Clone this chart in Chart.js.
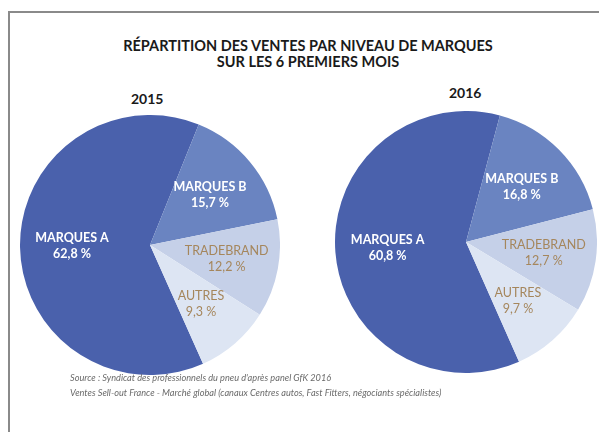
<!DOCTYPE html>
<html>
<head>
<meta charset="utf-8">
<script src="https://cdn.jsdelivr.net/npm/chart.js@4.4.0/dist/chart.umd.min.js"></script>
<style>
  body { margin: 0; background: #fff; width: 599px; height: 432px; overflow: hidden; position: relative; font-family: Lato, "Open Sans", sans-serif; }
  .frame { position: absolute; left: 8px; top: 11px; width: 700px; height: 500px; border-left: 2px solid #8a8a8a; border-top: 2px solid #8a8a8a; }
  .title { position: absolute; left: 0; width: 616px; top: 38px; text-align: center; font-weight: 700; font-size: 14.5px; line-height: 16px; color: #1a1a1a; letter-spacing: 0px; }
  .year { position: absolute; font-weight: 700; font-size: 14px; color: #1a1a1a; }
  .pie { position: absolute; }
  .source { position: absolute; left: 70px; top: 370px; font-style: italic; font-size: 9.2px; line-height: 15px; color: #6a6a6a; }
</style>
</head>
<body>
<div class="frame"></div>
<div class="title">RÉPARTITION DES VENTES PAR NIVEAU DE MARQUES<br>SUR LES 6 PREMIERS MOIS</div>
<div class="year" style="left:131px; top:90px;">2015</div>
<div class="year" style="left:449px; top:84px;">2016</div>
<div class="pie" style="left:20px; top:115px; width:260px; height:260px;"><canvas id="pie2015"></canvas></div>
<div class="pie" style="left:335px; top:111px; width:262px; height:262px;"><canvas id="pie2016"></canvas></div>
<div class="source">Source : Syndicat des professionnels du pneu d'après panel GfK 2016<br>Ventes Sell-out France - Marché global (canaux Centres autos, Fast Fitters, négociants spécialistes)</div>
<script>
const categories = ["MARQUES A", "MARQUES B", "TRADEBRAND", "AUTRES"];
const values2015 = [62.8, 15.7, 12.2, 9.3];
const values2016 = [60.8, 16.8, 12.7, 9.7];

const sliceColors = ["#4a61ac", "#6a84c1", "#c5d0e8", "#dde5f3"];
const labelColors = ["#ffffff", "#ffffff", "#a5865c", "#a5865c"];
const labelWeights = ["bold", "bold", "normal", "normal"];

// writes the category and the value inside each slice
const sliceLabels = {
  id: "sliceLabels",
  afterDatasetsDraw(chart) {
    const ctx = chart.ctx;
    const meta = chart.getDatasetMeta(0);
    const values = chart.data.datasets[0].data;
    meta.data.forEach((arc, i) => {
      const mid = (arc.startAngle + arc.endAngle) / 2;
      const r = arc.outerRadius * 0.6;
      const x = arc.x + Math.cos(mid) * r;
      const y = arc.y + Math.sin(mid) * r;
      ctx.save();
      ctx.fillStyle = labelColors[i];
      ctx.font = labelWeights[i] + " 12.5px Lato, 'Open Sans', sans-serif";
      ctx.textAlign = "center";
      ctx.textBaseline = "middle";
      ctx.fillText(chart.data.labels[i], x, y - 8);
      ctx.fillText(values[i].toFixed(1).replace(".", ",") + " %", x, y + 8);
      ctx.restore();
    });
  },
};

// startB: angle (deg, clockwise from the top) where the MARQUES B slice begins
const makePie = (canvasId, values, startB) => {
  return new Chart(document.getElementById(canvasId), {
    type: "pie",
    data: {
      labels: categories,
      datasets: [
        {
          data: values,
          backgroundColor: sliceColors,
          borderWidth: 0,
          hoverOffset: 0,
        },
      ],
    },
    options: {
      responsive: true,
      maintainAspectRatio: false,
      animation: false,
      rotation: startB - values[0] * 3.6,
      layout: { padding: 0 },
      plugins: {
        legend: { display: false },
        tooltip: { enabled: false },
      },
    },
    plugins: [sliceLabels],
  });
};

makePie("pie2015", values2015, 22);
makePie("pie2016", values2016, 15);
</script>
</body>
</html>
